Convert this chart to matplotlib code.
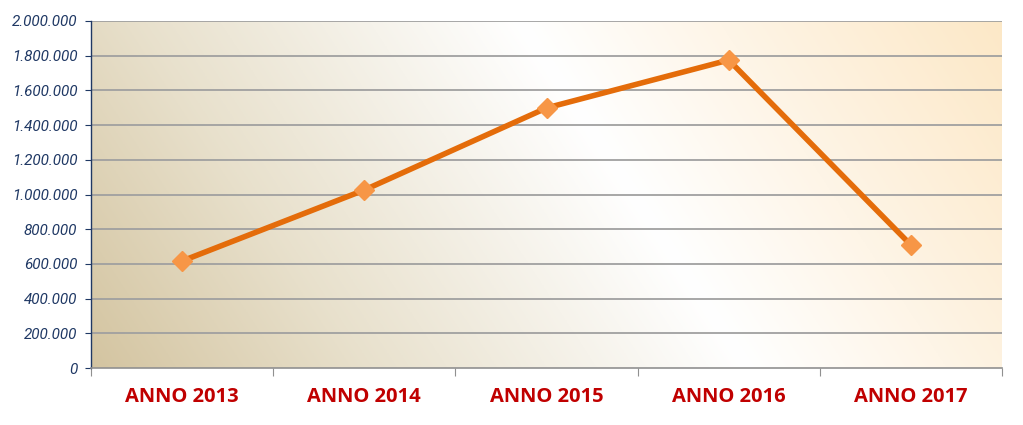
import numpy as np
import matplotlib
matplotlib.use('Agg')
import matplotlib.pyplot as plt
from matplotlib.ticker import FuncFormatter

# ── Data ──────────────────────────────────────────────────────────────────────
years = ["ANNO 2013", "ANNO 2014", "ANNO 2015", "ANNO 2016", "ANNO 2017"]
values = [617000, 1026000, 1499000, 1775000, 709000]
y_ticks = [0, 200000, 400000, 600000, 800000, 1000000, 1200000,
           1400000, 1600000, 1800000, 2000000]

LINE_COLOR = "#e46c0a"
MARKER_COLOR = "#f79646"
NAVY = "#1f3864"
RED = "#c00000"

fig = plt.figure(figsize=(10.23, 4.25), dpi=100)
ax = fig.add_axes([0.089, 0.134, 0.8905, 0.8166])

# ── Background gradient (tan -> white -> light orange), diagonal ─────────────
nx, ny = 400, 160
gx, gy = np.meshgrid(np.linspace(0, 1, nx), np.linspace(0, 1, ny))
s = gx + 0.25 * gy
stops = [0.0, 0.3, 0.72, 1.0, 1.25]
cols = np.array([
    [0.83, 0.77, 0.63],
    [0.91, 0.88, 0.80],
    [1.00, 1.00, 1.00],
    [0.995, 0.95, 0.88],
    [0.99, 0.91, 0.78],
])
img = np.zeros((ny, nx, 3))
for c in range(3):
    img[..., c] = np.interp(s, stops, cols[:, c])
ax.imshow(img, extent=[0, 1, 0, 1], transform=ax.transAxes, origin="lower",
          aspect="auto", zorder=0)

# ── Grid ──────────────────────────────────────────────────────────────────────
for yv in y_ticks[1:]:
    ax.axhline(yv, color="#a0a0a0", lw=1.3, zorder=1)

# ── Line ──────────────────────────────────────────────────────────────────────
x = np.arange(len(years))
ax.plot(x, values, color=LINE_COLOR, lw=4.0, zorder=3)
ax.plot(x, values, linestyle="none", marker="D", markersize=10.5,
        color=MARKER_COLOR, markeredgecolor=MARKER_COLOR, zorder=4)

ax.set_xlim(-0.5, len(years) - 0.5)
ax.set_ylim(0, 2000000)

# ── Axes styling ──────────────────────────────────────────────────────────────
for side in ["top", "right"]:
    ax.spines[side].set_visible(False)
ax.spines["left"].set_color(NAVY)
ax.spines["left"].set_linewidth(1.0)
ax.spines["bottom"].set_color("#909090")
ax.spines["bottom"].set_linewidth(1.2)

ax.set_yticks(y_ticks)
ax.yaxis.set_major_formatter(FuncFormatter(lambda v, p: f"{int(v):,}".replace(",", ".")))
ax.tick_params(axis="y", direction="out", length=4, color=NAVY, pad=6)
for lbl in ax.get_yticklabels():
    lbl.set_fontfamily("Roboto")
    lbl.set_fontstyle("italic")
    lbl.set_fontsize(11)
    lbl.set_color(NAVY)

# ticks between categories, labels centered
ax.set_xticks(np.arange(-0.5, len(years), 1.0))
ax.set_xticklabels([])
ax.tick_params(axis="x", direction="out", length=6, color="#909090")
ax.set_xticks(x, minor=True)
ax.set_xticklabels(years, minor=True)
ax.tick_params(axis="x", which="minor", length=0, pad=14)
for lbl in ax.get_xticklabels(minor=True):
    lbl.set_fontfamily("Open Sans")
    lbl.set_fontweight("bold")
    lbl.set_fontsize(14.5)
    lbl.set_color(RED)

fig.savefig("out.png", dpi=100)
